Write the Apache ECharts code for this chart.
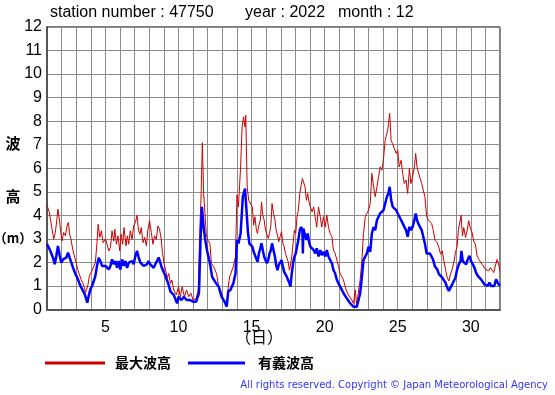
<!DOCTYPE html>
<html><head><meta charset="utf-8">
<script src="https://cdn.jsdelivr.net/npm/echarts@6/dist/echarts.min.js"></script>
<style>html,body{margin:0;padding:0;background:#fff}#c{width:555px;height:395px}</style>
</head><body><div id="c"></div>
<script>
const xTicks = [5, 10, 15, 20, 25, 30];
const yTicks = [0,1,2,3,4,5,6,7,8,9,10,11,12];
const maxDays = [1.0,1.07,1.16,1.25,1.34,1.46,1.57,1.68,1.75,1.85,1.94,2.03,2.14,2.26,2.37,2.46,2.55,2.64,2.76,2.87,2.99,3.1,3.21,3.33,3.44,3.56,3.63,3.72,3.81,3.9,3.99,4.08,4.2,4.31,4.42,4.5,4.61,4.72,4.84,5.0,5.11,5.23,5.34,5.45,5.57,5.64,5.75,5.86,5.98,6.07,6.18,6.27,6.41,6.5,6.59,6.7,6.82,6.93,7.05,7.16,7.27,7.36,7.45,7.57,7.68,7.8,7.91,8.02,8.14,8.25,8.36,8.48,8.59,8.7,8.82,8.9,9.02,9.14,9.23,9.33,9.45,9.55,9.67,9.85,10.0,10.12,10.25,10.4,10.55,10.7,10.85,11.0,11.2,11.35,11.45,11.55,11.63,11.72,11.8,11.9,12.0,12.15,12.25,12.4,12.6,12.75,12.9,13.1,13.3,13.4,13.5,13.62,13.75,13.9,14.0,14.1,14.25,14.35,14.45,14.55,14.6,14.7,14.8,14.93,15.05,15.14,15.23,15.32,15.4,15.5,15.6,15.68,15.77,15.86,15.95,16.05,16.14,16.23,16.32,16.4,16.5,16.6,16.68,16.77,16.86,16.95,17.05,17.14,17.23,17.32,17.41,17.5,17.59,17.66,17.75,17.84,17.93,18.02,18.11,18.2,18.3,18.39,18.48,18.57,18.66,18.75,18.84,18.93,19.02,19.14,19.25,19.35,19.46,19.58,19.7,19.8,19.92,20.04,20.15,20.26,20.38,20.5,20.6,20.72,20.84,20.95,21.06,21.18,21.29,21.4,21.52,21.63,21.75,21.86,21.97,22.1,22.17,22.27,22.36,22.43,22.55,22.66,22.78,22.89,23.0,23.12,23.23,23.35,23.46,23.58,23.69,23.8,23.92,24.03,24.14,24.25,24.32,24.37,24.45,24.55,24.64,24.77,24.9,25.0,25.1,25.23,25.34,25.45,25.57,25.68,25.8,25.9,26.02,26.14,26.23,26.32,26.4,26.52,26.64,26.75,26.86,26.98,27.1,27.2,27.32,27.43,27.55,27.7,27.82,27.93,28.05,28.16,28.27,28.39,28.5,28.61,28.73,28.84,28.95,29.07,29.16,29.25,29.34,29.43,29.52,29.64,29.75,29.86,29.98,30.09,30.2,30.32,30.43,30.55,30.66,30.77,30.89,31.0,31.11,31.23,31.34,31.45,31.57,31.68,31.8,31.9,32.0];
const maxWave = [4.43,4.48,4.12,3.77,3.77,2.99,3.27,3.84,4.26,3.84,3.27,2.91,3.27,3.13,3.55,3.7,3.2,2.99,2.56,2.28,1.99,1.71,1.5,1.28,1.14,0.93,0.72,0.86,1.07,1.43,1.5,1.64,1.57,1.99,2.84,3.62,3.06,3.34,2.84,3.0,2.77,2.49,2.63,3.34,2.91,3.41,2.77,3.13,2.49,3.2,2.77,3.48,2.7,3.13,2.77,3.34,2.98,3.55,3.7,4.0,3.34,3.2,3.48,2.84,3.06,2.7,3.41,3.77,3.27,2.77,3.13,2.98,3.55,3.41,2.98,2.42,1.92,1.85,1.35,1.53,1.11,1.25,0.83,0.62,0.97,0.54,0.97,0.54,0.83,0.54,0.69,0.4,0.47,0.83,3.23,4.93,7.08,4.93,4.86,3.23,2.95,2.8,1.96,1.82,1.53,0.97,0.76,0.4,0.19,0.97,1.39,1.46,1.82,2.25,4.86,4.36,6.06,7.76,8.18,7.76,8.25,5.2,4.65,4.64,4.36,3.58,3.94,3.44,3.23,3.58,3.8,4.57,4.0,3.8,3.37,3.44,3.02,3.23,3.58,4.5,4.08,3.8,3.37,3.16,2.88,3.09,3.3,2.81,2.67,2.38,2.31,2.03,1.67,1.89,2.24,2.81,3.37,3.23,3.94,4.22,4.93,5.28,5.56,5.63,5.21,4.64,4.93,4.57,4.36,4.15,4.36,3.94,3.5,4.36,3.94,3.5,3.94,3.5,4.01,3.5,3.23,3.09,2.52,2.38,2.1,1.82,1.53,1.39,1.25,0.97,0.76,0.62,0.54,0.4,0.26,0.83,0.26,0.54,0.97,1.25,2.1,3.23,3.94,4.08,4.22,4.5,5.78,5.21,4.79,5.21,5.64,6.06,5.92,6.41,7.19,7.47,7.62,7.9,8.33,7.19,7.05,7.05,6.63,6.77,6.06,6.34,5.78,5.35,5.5,4.93,5.99,5.35,5.64,6.06,6.63,6.06,5.85,5.78,5.35,5.07,4.79,3.94,3.8,3.87,3.66,3.37,2.95,2.84,2.63,2.35,2.49,2.06,1.71,1.35,1.21,1.5,1.71,1.99,2.42,2.7,3.41,3.34,4.0,3.13,3.48,3.06,3.34,3.77,3.41,3.27,2.91,2.77,2.28,2.13,2.06,1.92,1.85,1.71,1.78,1.64,1.78,1.78,1.57,1.85,2.13,1.92,1.64];
const sigDays = [1.0,1.07,1.18,1.3,1.41,1.53,1.64,1.75,1.87,1.98,2.1,2.21,2.32,2.44,2.55,2.67,2.78,2.9,3.01,3.12,3.24,3.35,3.47,3.58,3.69,3.76,3.85,3.97,4.08,4.2,4.31,4.42,4.54,4.65,4.77,4.88,5.0,5.11,5.23,5.34,5.45,5.57,5.68,5.8,5.9,6.02,6.14,6.25,6.36,6.48,6.6,6.7,6.82,6.93,7.05,7.16,7.27,7.39,7.5,7.61,7.73,7.84,7.95,8.07,8.18,8.3,8.4,8.52,8.64,8.75,8.86,8.98,9.1,9.3,9.45,9.67,9.9,10.0,10.2,10.37,10.55,10.78,11.0,11.2,11.4,11.5,11.6,11.72,11.83,11.95,12.15,12.3,12.5,12.75,12.95,13.15,13.3,13.4,13.55,13.75,13.9,14.0,14.1,14.25,14.4,14.55,14.6,14.75,14.85,14.93,15.05,15.14,15.23,15.32,15.41,15.5,15.59,15.68,15.77,15.86,15.95,16.05,16.14,16.23,16.32,16.4,16.5,16.6,16.68,16.77,16.86,16.95,17.05,17.14,17.23,17.32,17.41,17.5,17.59,17.66,17.75,17.84,17.93,18.02,18.11,18.2,18.3,18.39,18.48,18.51,18.54,18.66,18.75,18.84,18.93,19.02,19.14,19.25,19.35,19.46,19.58,19.7,19.8,19.92,20.04,20.15,20.26,20.38,20.5,20.6,20.72,20.84,20.95,21.06,21.18,21.29,21.4,21.52,21.63,21.75,21.86,21.97,22.1,22.2,22.32,22.43,22.55,22.66,22.78,22.89,23.0,23.12,23.23,23.35,23.46,23.58,23.69,23.8,23.92,24.03,24.14,24.26,24.36,24.45,24.55,24.66,24.77,24.9,25.0,25.1,25.23,25.34,25.45,25.57,25.68,25.8,25.9,26.02,26.14,26.23,26.32,26.4,26.52,26.64,26.75,26.86,26.98,27.1,27.2,27.32,27.43,27.55,27.7,27.82,27.93,28.05,28.16,28.27,28.39,28.5,28.61,28.73,28.84,28.95,29.07,29.18,29.3,29.36,29.45,29.57,29.68,29.8,29.91,30.02,30.14,30.25,30.36,30.48,30.59,30.7,30.82,30.93,31.05,31.16,31.27,31.39,31.5,31.61,31.73,31.84,32.0];
const sigWave = [2.78,2.77,2.56,2.49,2.2,1.92,2.28,2.7,2.28,1.99,2.13,2.06,2.2,2.42,2.2,1.99,1.78,1.57,1.43,1.28,1.07,0.93,0.86,0.65,0.43,0.29,0.57,0.86,1.0,1.21,1.43,1.85,2.2,2.06,1.85,1.92,1.85,1.92,1.7,1.85,2.13,1.92,2.06,1.77,2.06,1.7,2.13,1.85,2.06,1.77,1.99,1.92,2.06,1.92,2.28,2.49,2.21,1.99,2.06,1.85,1.77,1.92,2.06,1.92,1.85,1.77,1.85,2.06,2.21,1.99,1.77,1.7,1.42,1.1,0.76,0.62,0.26,0.54,0.4,0.54,0.4,0.4,0.33,0.33,0.69,2.8,4.36,3.5,2.95,2.52,1.96,1.39,1.18,0.97,0.54,0.33,0.12,0.76,0.83,1.11,1.53,2.95,2.8,3.23,4.79,5.14,5.21,3.3,2.8,2.88,2.67,2.45,2.52,2.17,2.03,2.38,2.59,2.81,2.52,2.24,2.1,1.96,2.1,2.38,2.52,2.81,2.52,2.24,1.89,1.67,1.89,1.82,2.1,1.82,1.6,1.53,1.39,1.32,1.11,0.97,1.53,1.96,2.24,2.38,2.67,2.95,3.37,3.51,3.37,2.38,3.44,3.16,2.95,3.23,2.88,2.67,2.74,2.52,2.38,2.6,2.25,2.52,2.31,2.45,2.25,2.52,2.25,2.1,1.96,1.68,1.53,1.25,1.11,0.97,0.83,0.69,0.62,0.47,0.4,0.26,0.19,0.12,0.19,0.12,0.4,0.69,1.39,2.1,2.25,2.38,2.66,2.45,3.23,3.5,3.37,3.8,3.87,4.08,4.01,4.22,4.3,4.79,4.93,5.21,4.65,4.36,4.36,4.22,4.08,4.08,3.8,3.66,3.51,3.37,3.09,3.51,3.37,3.51,3.8,4.08,3.8,3.66,3.51,3.37,3.09,2.8,2.38,2.38,2.38,2.25,2.1,1.82,1.71,1.5,1.43,1.35,1.28,1.14,0.93,0.79,0.93,1.07,1.21,1.35,1.71,1.92,2.06,2.49,2.06,2.13,1.92,2.13,2.28,2.06,1.92,1.78,1.57,1.43,1.35,1.28,1.21,1.07,1.07,1.0,1.14,1.0,1.07,1.0,1.28,1.14,1.0];

const pair = (d, v) => d.map((x, i) => [x, v[i]]);
const chart = echarts.init(document.getElementById('c'));
const cjk = '"Noto Sans CJK JP", sans-serif';
const lat = '"Liberation Sans", Arial, sans-serif';
chart.setOption({
  animation: false,
  backgroundColor: '#fff',
  grid: { left: 47, right: 55, top: 27, bottom: 85.5, show: true, borderColor: '#000', borderWidth: 1 },
  xAxis: {
    type: 'value', min: 1, max: 32, interval: 1,
    axisLine: { show: true, lineStyle: { color: '#555', width: 2 } },
    axisTick: { show: false },
    splitLine: { show: true, lineStyle: { color: '#8a8a8a', width: 1 } },
    axisLabel: { color: '#000', fontSize: 16, fontFamily: lat, margin: 10,
      formatter: v => xTicks.includes(v) ? String(v) : '' }
  },
  yAxis: {
    type: 'value', min: 0, max: 12, interval: 1,
    axisLine: { show: true, lineStyle: { color: '#555', width: 2 } },
    axisTick: { show: false },
    splitLine: { show: true, lineStyle: { color: '#8a8a8a', width: 1 } },
    axisLabel: { color: '#000', fontSize: 16, fontFamily: lat, margin: 5,
      formatter: v => yTicks.includes(v) ? String(v) : '' }
  },
  series: [
    { name: '最大波高', type: 'line', data: pair(maxDays, maxWave), showSymbol: false, lineStyle: { color: '#cc0000', width: 1 }, z: 3 },
    { name: '有義波高', type: 'line', data: pair(sigDays, sigWave), showSymbol: false, lineStyle: { color: '#0000ff', width: 2.5 }, z: 4 }
  ],
  graphic: [
    { type: 'text', left: 50, top: 5, style: { text: 'station number : 47750', font: '16px "Liberation Sans", Arial', fill: '#000' } },
    { type: 'text', left: 245, top: 5, style: { text: 'year : 2022', font: '16px "Liberation Sans", Arial', fill: '#000' } },
    { type: 'text', left: 338, top: 5, style: { text: 'month : 12', font: '16px "Liberation Sans", Arial', fill: '#000' } },
    { type: 'text', x: 13, y: 143, style: { text: '波', font: 'bold 15px ' + cjk, fill: '#000', align: 'center', verticalAlign: 'middle' } },
    { type: 'text', x: 13, y: 196, style: { text: '高', font: 'bold 15px ' + cjk, fill: '#000', align: 'center', verticalAlign: 'middle' } },
    { type: 'text', x: 13, y: 238, style: { text: '（m）', font: 'bold 13px ' + cjk, fill: '#000', align: 'center', verticalAlign: 'middle' } },
    { type: 'text', x: 259, y: 337, style: { text: '（日）', font: '16px ' + cjk, fill: '#000', align: 'center', verticalAlign: 'middle' } },
    { type: 'line', shape: { x1: 45, y1: 363, x2: 105, y2: 363 }, style: { stroke: '#cc0000', lineWidth: 3 } },
    { type: 'text', x: 115, y: 363, style: { text: '最大波高', font: 'bold 14px ' + cjk, fill: '#000', verticalAlign: 'middle' } },
    { type: 'line', shape: { x1: 188, y1: 363, x2: 245, y2: 363 }, style: { stroke: '#0000ff', lineWidth: 3 } },
    { type: 'text', x: 258, y: 363, style: { text: '有義波高', font: 'bold 14px ' + cjk, fill: '#000', verticalAlign: 'middle' } },
    { type: 'text', x: 548, y: 385, style: { text: 'All rights reserved. Copyright © Japan Meteorological Agency', font: '10px "DejaVu Sans", Verdana', fill: '#3333ff', align: 'right', verticalAlign: 'middle' } }
  ]
});
</script></body></html>
